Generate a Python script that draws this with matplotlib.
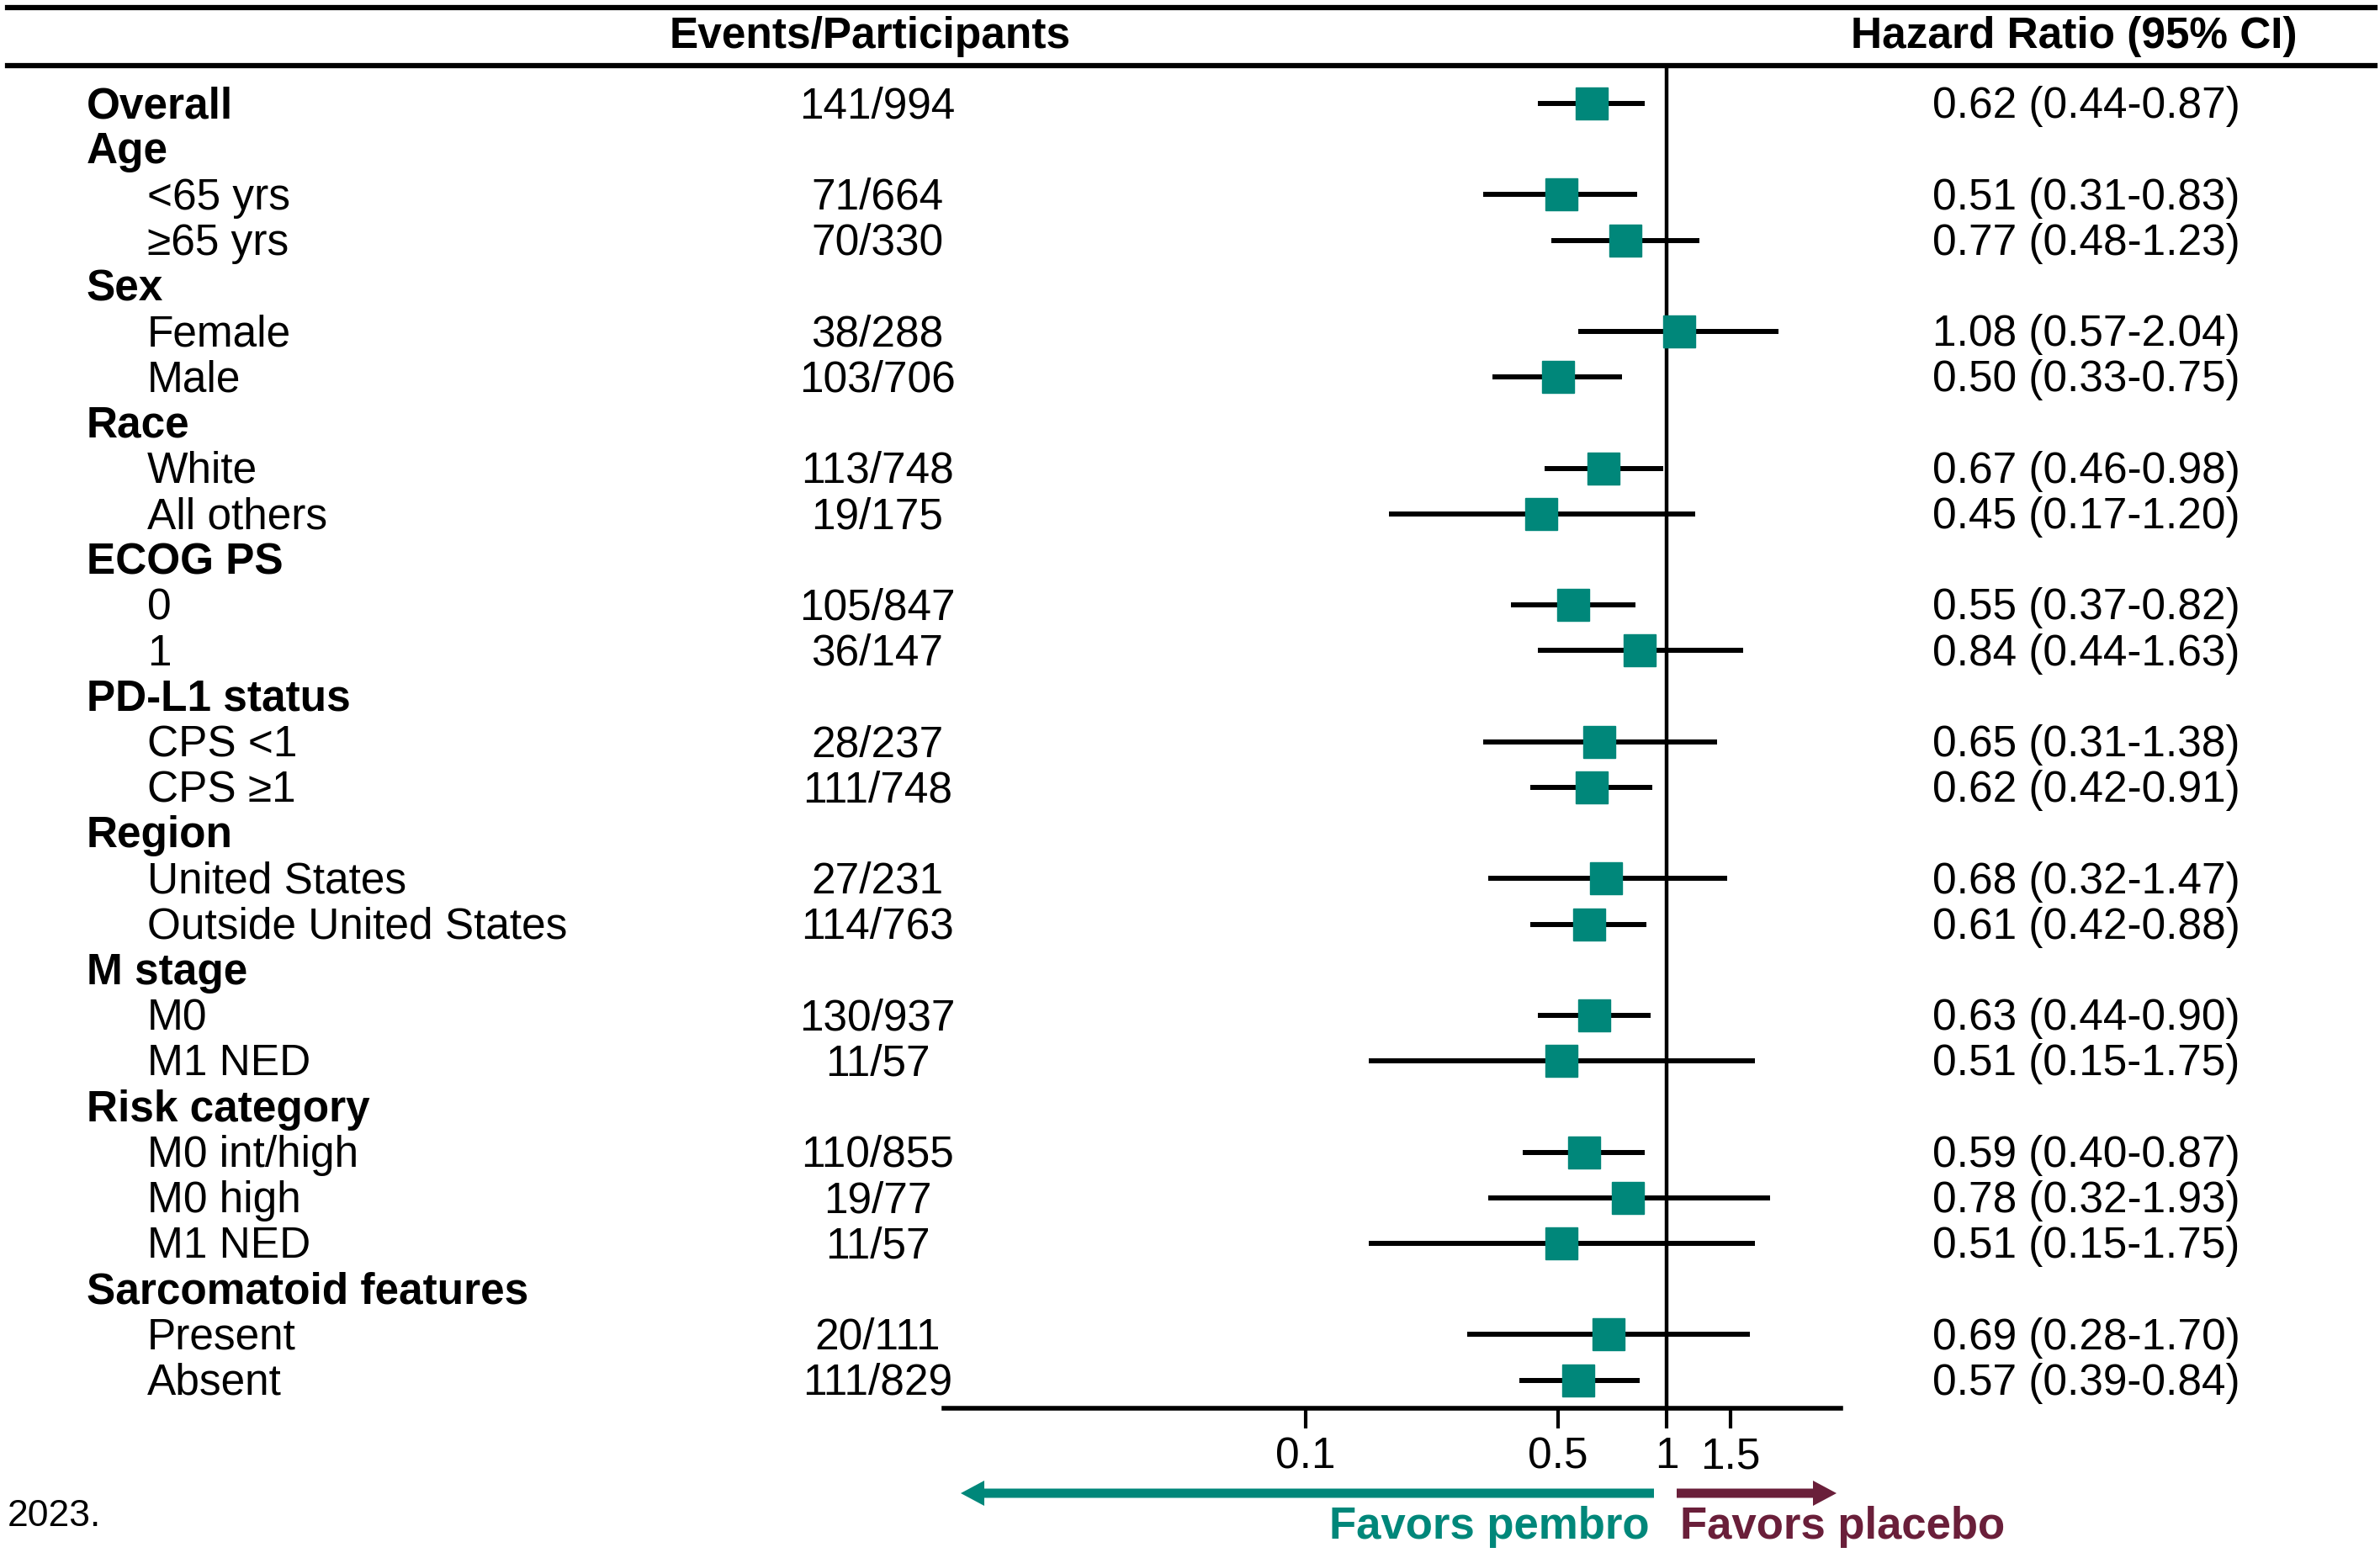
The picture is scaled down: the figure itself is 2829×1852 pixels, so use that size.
import numpy as np
import matplotlib
matplotlib.use("Agg")
import matplotlib.pyplot as plt
from matplotlib import transforms
from matplotlib.lines import Line2D
from matplotlib.patches import FancyArrow

W, H, DPI = 2829, 1852, 100

labels = ["Overall", "Age", "<65 yrs", "\u226565 yrs", "Sex", "Female", "Male",
          "Race", "White", "All others", "ECOG PS", "0", "1", "PD-L1 status",
          "CPS <1", "CPS \u22651", "Region", "United States", "Outside United States",
          "M stage", "M0", "M1 NED", "Risk category", "M0 int/high", "M0 high",
          "M1 NED", "Sarcomatoid features", "Present", "Absent"]
headers = ["Overall", "Age", "Sex", "Race", "ECOG PS", "PD-L1 status", "Region",
           "M stage", "Risk category", "Sarcomatoid features"]
events = ["141/994", "", "71/664", "70/330", "", "38/288", "103/706",
          "", "113/748", "19/175", "", "105/847", "36/147", "",
          "28/237", "111/748", "", "27/231", "114/763",
          "", "130/937", "11/57", "", "110/855", "19/77",
          "11/57", "", "20/111", "111/829"]
hr = [0.62, None, 0.51, 0.77, None, 1.08, 0.50, None, 0.67, 0.45, None, 0.55, 0.84,
      None, 0.65, 0.62, None, 0.68, 0.61, None, 0.63, 0.51, None, 0.59, 0.78,
      0.51, None, 0.69, 0.57]
lo = [0.44, None, 0.31, 0.48, None, 0.57, 0.33, None, 0.46, 0.17, None, 0.37, 0.44,
      None, 0.31, 0.42, None, 0.32, 0.42, None, 0.44, 0.15, None, 0.40, 0.32,
      0.15, None, 0.28, 0.39]
hi = [0.87, None, 0.83, 1.23, None, 2.04, 0.75, None, 0.98, 1.20, None, 0.82, 1.63,
      None, 1.38, 0.91, None, 1.47, 0.88, None, 0.90, 1.75, None, 0.87, 1.93,
      1.75, None, 1.70, 0.84]
tick_vals = [0.1, 0.5, 1, 1.5]
tick_labels = ["0.1", "0.5", "1", "1.5"]

TEAL = "#00877a"
MAROON = "#6a1f3a"
FS = 37

plt.rcParams["font.family"] = ["Liberation Sans", "DejaVu Sans"]

fig = plt.figure(figsize=(W / DPI, H / DPI), dpi=DPI)

# forest axes placed in pixel terms
x0, x1 = 1122, 2188
y_top, y_bot = 81, 1674
ax = fig.add_axes([x0 / W, 1 - y_bot / H, (x1 - x0) / W, (y_bot - y_top) / H])

row0, step = 123, 54.2
ax.set_ylim((y_bot - row0) / step, (y_top - row0) / step)
ax.set_xscale("log")
ax.set_xlim(0.01, 3.03)

y = np.arange(len(labels))
for i in y:
    if hr[i] is None:
        continue
    ax.plot([lo[i], hi[i]], [i, i], color="black", lw=4.3, solid_capstyle="butt", zorder=2)
    ax.plot(hr[i], i, marker="s", ms=27, color=TEAL, mec=TEAL, zorder=3)

ax.axvline(1, color="black", lw=3.2, zorder=1)

for s in ["top", "left", "right"]:
    ax.spines[s].set_visible(False)
ax.spines["bottom"].set_linewidth(4)
ax.set_yticks([])
ax.set_xticks(tick_vals)
ax.set_xticklabels(tick_labels, fontsize=FS)
ax.xaxis.set_minor_locator(matplotlib.ticker.NullLocator())
ax.tick_params(axis="x", direction="out", length=17, width=3, pad=7)

# table text, nudged slightly below the marker centres
trans = transforms.blended_transform_factory(fig.transFigure, ax.transData)
dy = 0.07
for i in y:
    lab = labels[i]
    if lab in headers:
        fig.text(103 / W, i + dy, lab, transform=trans, fontsize=FS, fontweight="bold",
                 ha="left", va="center")
    else:
        fig.text(175 / W, i + dy, lab, transform=trans, fontsize=FS, ha="left", va="center")
    if events[i]:
        fig.text(1043 / W, i + dy, events[i], transform=trans, fontsize=FS,
                 ha="center", va="center")
    if hr[i] is not None:
        fig.text(2480 / W, i + dy, f"{hr[i]:.2f} ({lo[i]:.2f}-{hi[i]:.2f})", transform=trans,
                 fontsize=FS, ha="center", va="center")

# header and rules
fig.text(1034 / W, 1 - 43 / H, "Events/Participants", fontsize=FS, fontweight="bold",
         ha="center", va="center")
fig.text(2465 / W, 1 - 43 / H, "Hazard Ratio (95% CI)", fontsize=FS, fontweight="bold",
         ha="center", va="center")
for yy in [9, 78]:
    fig.add_artist(Line2D([9 / W, 2823 / W], [1 - yy / H, 1 - yy / H], color="black",
                          lw=4.5, transform=fig.transFigure))

# favour arrows (in inches)
ay = (H - 1775) / DPI
fig.add_artist(FancyArrow(1966 / DPI, ay, (1142 - 1966) / DPI, 0, width=0.11,
                          head_width=0.3, head_length=0.28, length_includes_head=True,
                          color=TEAL, lw=0, transform=fig.dpi_scale_trans))
fig.add_artist(FancyArrow(1993 / DPI, ay, (2183 - 1993) / DPI, 0, width=0.11,
                          head_width=0.3, head_length=0.28, length_includes_head=True,
                          color=MAROON, lw=0, transform=fig.dpi_scale_trans))
fig.text(1961 / W, 1 - 1815 / H, "Favors pembro", color=TEAL, fontsize=38,
         fontweight="bold", ha="right", va="center")
fig.text(1997 / W, 1 - 1815 / H, "Favors placebo", color=MAROON, fontsize=38,
         fontweight="bold", ha="left", va="center")

fig.text(9 / W, 1 - 1803 / H, "2023.", fontsize=32, ha="left", va="center")

fig.savefig("out.png", dpi=DPI)
